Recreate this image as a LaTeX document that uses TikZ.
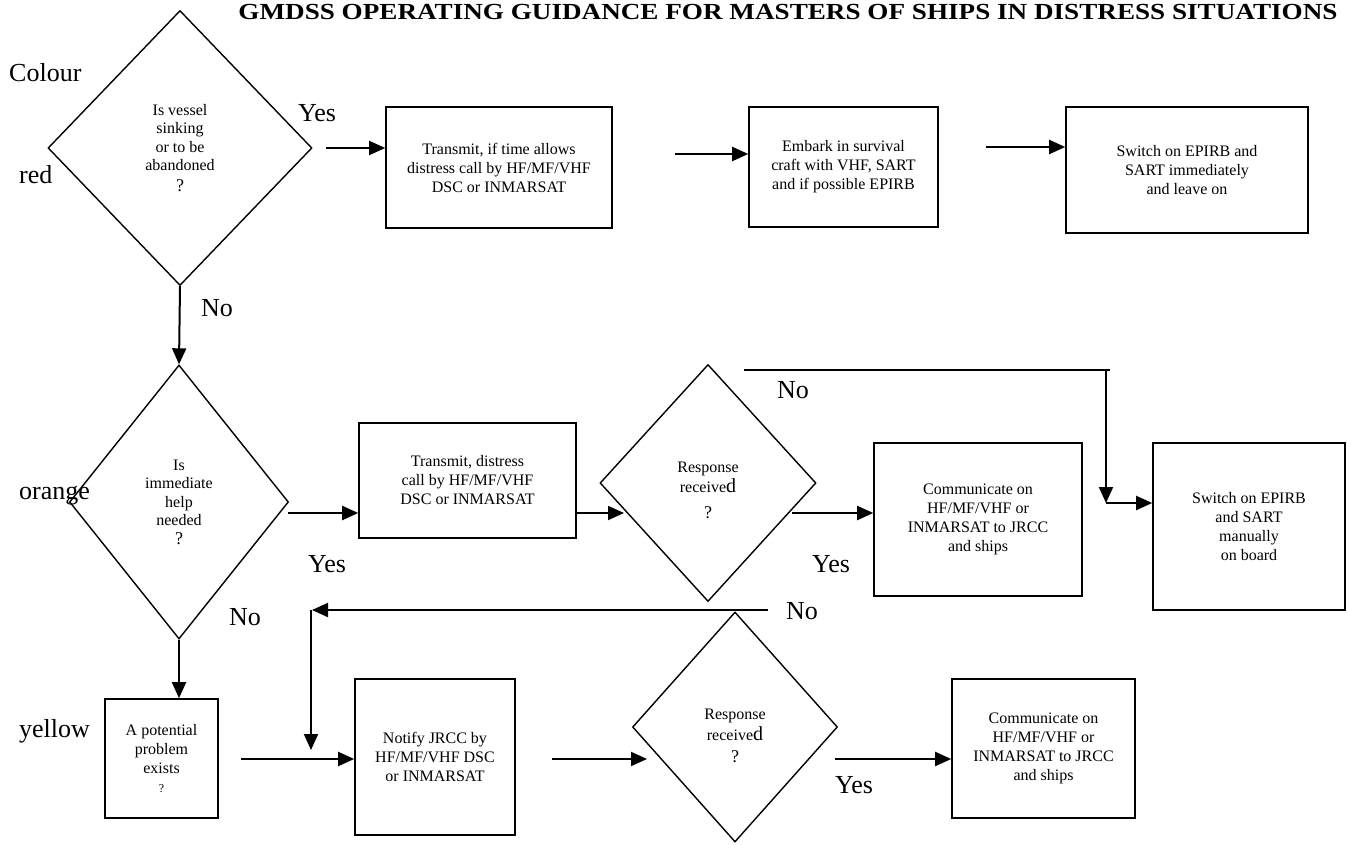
\documentclass[tikz,border=0pt]{standalone}
\usepackage{fontspec}
\setmainfont{Liberation Serif}
\usetikzlibrary{shapes.geometric,arrows.meta}
\begin{document}
\begin{tikzpicture}[x=1pt,y=-1pt,
  box/.style={draw, line width=1.6pt, align=center, inner sep=0pt, font=\fontsize{16}{19}\selectfont},
  dia/.style={draw, diamond, line width=1.4pt, align=center, inner sep=0pt, font=\fontsize{16}{18.5}\selectfont},
  dtext/.style={align=center, inner sep=0pt, font=\fontsize{16}{18.5}\selectfont},
  lbl/.style={anchor=base west, inner sep=0pt, font=\fontsize{26}{30}\selectfont},
  arr/.style={line width=2pt, -{Triangle[length=16pt,width=14pt]}},
  ln/.style={line width=2pt}]
\useasboundingbox (0,0) rectangle (1347,845);

% title
\node[inner sep=0pt, font=\bfseries\fontsize{23}{26}\selectfont] (title) at (788,12) {\scalebox{1.18}[1]{GMDSS OPERATING GUIDANCE FOR MASTERS OF SHIPS IN DISTRESS SITUATIONS}};

% row labels
\node[lbl] (colour) at (9,82) {Colour};
\node[lbl] (red) at (19,184) {red};
\node[lbl] (orange) at (19,499) {orange};
\node[lbl] (yellow) at (19,737) {yellow};

% diamonds
\node[dia, minimum width=264pt, minimum height=275pt] (D1) at (180,148) {Is vessel\\sinking\\or to be\\abandoned\\[2pt]{\fontsize{18}{18}\selectfont ?}};
\node[dia, minimum width=219pt, minimum height=274pt] (D2) at (179,502) {Is\\immediate\\help\\needed\\{\fontsize{18}{18}\selectfont ?}};
\node[dia, minimum width=216pt, minimum height=237pt] (D3) at (708,483) {};
\node[dtext] (D3t) at ([yshift=-7pt]D3.center) {Response\\[2pt]receive{\fontsize{20}{20}\selectfont d}\\[7pt]{\fontsize{18}{18}\selectfont ?}};
\node[dia, minimum width=205pt, minimum height=230pt] (D4) at (735,727) {};
\node[dtext] (D4t) at ([yshift=-9pt]D4.center) {Response\\[2pt]receive{\fontsize{20}{20}\selectfont d}\\[4pt]{\fontsize{18}{18}\selectfont ?}};

% boxes
\node[box, minimum width=226pt, minimum height=121pt] (B1) at (499,167.5) {Transmit, if time allows\\distress call by HF/MF/VHF\\DSC or INMARSAT};
\node[box, minimum width=189pt, minimum height=120pt] (B2) at (843.5,167) {Embark in survival\\craft with VHF, SART\\and if possible EPIRB};
\node[box, minimum width=242pt, minimum height=126pt] (B3) at (1187,170) {Switch on EPIRB and\\SART immediately\\and leave on};
\node[box, minimum width=217pt, minimum height=115pt] (B4) at (467.5,480.5) {Transmit, distress\\call by HF/MF/VHF\\DSC or INMARSAT};
\node[box, minimum width=208pt, minimum height=153pt] (B5) at (978,519.5) {Communicate on\\HF/MF/VHF or\\INMARSAT to JRCC\\and ships};
\node[box, minimum width=192pt, minimum height=167pt] (B6) at (1249,526.5) {Switch on EPIRB\\and SART\\manually\\on board};
\node[box, minimum width=113pt, minimum height=119pt] (B7) at (161.5,758.5) {A potential\\problem\\exists\\{\fontsize{12}{12}\selectfont ?}};
\node[box, minimum width=160pt, minimum height=156pt] (B8) at (435,757) {Notify JRCC by\\HF/MF/VHF DSC\\or INMARSAT};
\node[box, minimum width=183pt, minimum height=139pt] (B9) at (1043.5,748.5) {Communicate on\\HF/MF/VHF or\\INMARSAT to JRCC\\and ships};

% connector labels
\node[lbl] (yes1) at (298,122) {Yes};
\node[lbl] (no1) at (201,316) {No};
\node[lbl] (yes2) at (308,572) {Yes};
\node[lbl] (no2) at (229,625) {No};
\node[lbl] (no3) at (777,398) {No};
\node[lbl] (yes3) at (812,572) {Yes};
\node[lbl] (no4) at (786,619) {No};
\node[lbl] (yes4) at (835,793) {Yes};

% free ends of connectors
\coordinate (s1) at (326,148);
\coordinate (s2) at (675,154);
\coordinate (s3) at (986,147);
\coordinate (s4) at (288,513);
\coordinate (s5) at (576,513);
\coordinate (e5) at (624,513);
\coordinate (s6) at (792,513);
\coordinate (n3a) at (744,370);
\coordinate (n3b) at (1110,370);
\coordinate (n3c) at (1106,370);
\coordinate (n3d) at (1106,503);
\coordinate (n4a) at (768,610);
\coordinate (n4b) at (312,610);
\coordinate (n4c) at (311,610);
\coordinate (n4d) at (311,750);
\coordinate (s7) at (241,759);
\coordinate (s8) at (552,759);
\coordinate (e8) at (647,759);
\coordinate (s9) at (835,759);

% connectors
\draw[arr] (s1) -- (s1 -| B1.west);
\draw[arr] (s2) -- (s2 -| B2.west);
\draw[arr] (s3) -- (s3 -| B3.west);
\draw[arr] (D1.south) -- (D2.north);
\draw[arr] (s4) -- (s4 -| B4.west);
\draw[arr] (s5) -- (e5);
\draw[arr] (s6) -- (s6 -| B5.west);
\draw[ln] (n3a) -- (n3b);
\draw[arr] (n3c) -- (n3d);
\draw[arr] (n3d) -- (n3d -| B6.west);
\draw[arr] (n4a) -- (n4b);
\draw[arr] (n4c) -- (n4d);
\draw[arr] (D2.south) -- (D2.south |- B7.north);
\draw[arr] (s7) -- (s7 -| B8.west);
\draw[arr] (s8) -- (e8);
\draw[arr] (s9) -- (s9 -| B9.west);
\end{tikzpicture}
\end{document}
